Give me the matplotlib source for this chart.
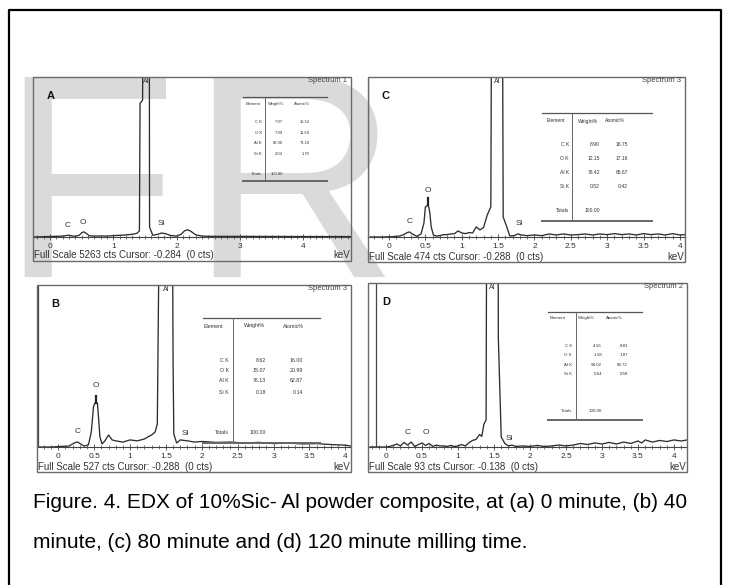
import matplotlib
matplotlib.use("Agg")
import matplotlib.pyplot as plt
from matplotlib.patches import Rectangle
from matplotlib.ticker import MultipleLocator

W, H = 730, 585

# ---- spectra (energy keV, counts) ----
e_a = [-0.26, -0.1, 0.05, 0.15, 0.22, 0.26, 0.29, 0.33, 0.4, 0.46, 0.5, 0.53, 0.57, 0.62,
       0.7, 0.8, 0.9, 1.0, 1.1, 1.2, 1.3, 1.37, 1.41, 1.42, 1.46, 1.47, 1.565, 1.57, 1.62,
       1.66, 1.7, 1.76, 1.82, 1.9, 2.0, 2.07, 2.12, 2.17, 2.22, 2.3, 2.4, 2.6, 3.0, 3.5,
       4.0, 4.5, 4.75]
c_a = [0, 10, 20, 25, 35, 50, 60, 40, 25, 60, 140, 170, 120, 40,
       30, 35, 30, 45, 55, 70, 90, 120, 200, 4400, 4500, 9000, 9000, 330, 60,
       70, 90, 130, 110, 50, 30, 90, 200, 240, 190, 70, 30, 20, 20, 18,
       15, 15, 12]

e_c = [-0.26, -0.1, 0.05, 0.15, 0.2, 0.25, 0.28, 0.32, 0.38, 0.44, 0.48, 0.5, 0.52, 0.54,
       0.56, 0.58, 0.61, 0.65, 0.7, 0.75, 0.8, 0.85, 0.9, 0.95, 1.0, 1.05, 1.1, 1.15, 1.2,
       1.25, 1.3, 1.35, 1.4, 1.41, 1.48, 1.56, 1.57, 1.62, 1.66, 1.72, 1.77, 1.82, 1.9, 2.0,
       2.1, 2.2, 2.3, 2.4, 2.5, 2.6, 2.7, 2.8, 2.9, 3.0, 3.1, 3.2, 3.3, 3.4, 3.5, 3.6, 3.7,
       3.8, 3.9, 4.0, 4.07]
c_c = [0, 0, 1, 3, 7, 13, 15, 9, 2, 9, 41, 89, 92, 95,
       74, 30, 6, 3, 4, 7, 7, 9, 10, 18, 12, 10, 13, 12, 30,
       21, 28, 65, 89, 700, 700, 700, 59, 30, 3, 4, 9, 6, 4, 6,
       4, 9, 6, 9, 6, 7, 9, 6, 9, 7, 10, 7, 9, 6, 10, 7, 9,
       6, 10, 6, 7]

e_b = [-0.26, -0.1, 0.05, 0.15, 0.2, 0.24, 0.27, 0.31, 0.36, 0.42, 0.46, 0.49, 0.51, 0.545,
       0.56, 0.58, 0.61, 0.65, 0.7, 0.75, 0.8, 0.9, 1.0, 1.1, 1.2, 1.25, 1.3, 1.35, 1.38,
       1.41, 1.5, 1.59, 1.6, 1.61, 1.65, 1.7, 1.8, 1.9, 2.0, 2.2, 2.4, 2.6, 2.8, 3.0, 3.2,
       3.4, 3.6, 3.8, 4.0, 4.08]
c_b = [0, 0, 2, 3, 10, 15, 16, 10, 3, 7, 49, 130, 143, 143,
       98, 33, 10, 20, 39, 23, 20, 16, 23, 20, 26, 33, 39, 49, 75,
       810, 810, 810, 270, 42, 13, 23, 20, 16, 18, 15, 16, 13, 15, 11, 13,
       10, 11, 8, 6, 3]

e_d = [-0.22, -0.1, 0.0, 0.05, 0.1, 0.15, 0.2, 0.25, 0.3, 0.35, 0.4, 0.45, 0.5, 0.55,
       0.6, 0.65, 0.7, 0.75, 0.8, 0.85, 0.9, 0.95, 1.0, 1.05, 1.1, 1.15, 1.2, 1.25, 1.3,
       1.33, 1.36, 1.39, 1.4, 1.48, 1.555, 1.56, 1.6, 1.65, 1.7, 1.75, 1.8, 1.9, 2.0, 2.1,
       2.2, 2.3, 2.4, 2.5, 2.6, 2.7, 2.8, 2.9, 3.0, 3.1, 3.2, 3.3, 3.4, 3.5, 3.55, 3.6,
       3.7, 3.8, 3.9, 4.0, 4.1, 4.18]
c_d = [0, 0, 0, 0.3, 0.9, 1.7, 0.6, 2.6, 1.1, 2.8, 0.3, 1.4, 2.3, 0.9,
       2.0, 0.3, 1.1, 0.6, 0.6, 0.3, 0.9, 0.3, 0.6, 1.4, 0.6, 2.3, 3.7, 4.3, 7.1,
       6.0, 13.0, 15.3, 164, 164, 164, 62, 5.7, 2.0, 0.6, 1.1, 0.3, 0.6, 0.3, 0.9,
       0.3, 0.6, 1.1, 0.6, 1.1, 2.0, 1.4, 2.3, 1.7, 2.6, 1.7, 2.8, 2.0, 3.4, 2.3, 4.0,
       2.8, 3.7, 3.1, 4.0, 3.4, 4.0]

# ---- quantification tables ----
rows = ["C K", "O K", "Al K", "Si K"]
wt_a = ["7.97", "7.99", "82.00", "2.04"]
at_a = ["15.52", "11.69", "71.10", "1.70"]
wt_b = ["8.62", "15.07", "76.13", "0.18"]
at_b = ["16.00", "20.99", "62.87", "0.14"]
wt_c = ["8.90", "12.15", "78.42", "0.52"]
at_c = ["16.75", "17.16", "65.67", "0.42"]
wt_d = ["4.16", "1.18", "94.02", "0.64"]
at_d = ["8.83", "1.87", "88.72", "0.58"]

ticks_1 = [0, 1, 2, 3, 4]
ticks_05 = [0, 0.5, 1, 1.5, 2, 2.5, 3, 3.5, 4]

caption = ["Figure. 4. EDX of 10%Sic- Al powder composite, at (a) 0 minute, (b) 40",
           "minute, (c) 80 minute and (d) 120 minute milling time."]

ARIAL = ["Liberation Sans", "DejaVu Sans"]

panels = [
    dict(tag="A", spec="Spectrum 1", e=e_a, c=c_a, fs=5263, cur="-0.284", curv=-0.284,
         L=33, R=351, T=77, base=237, B=261, xlim=(-0.27, 4.75), ticks=ticks_1,
         peaks=[("C", 0.28, 263), ("O", 0.52, 362), ("Si", 1.75, 339)], al=1.515,
         omark=None, wt=wt_a, at=at_a,
         tab=dict(x0=243, x1=327, v=265, top=97, bot=181, hy=101,
                  ry=[122, 133, 143, 154], ty=174, er=-3, wr=18, ar=45,
                  hx=(-12, 11, 37), fs=3.0)),
    dict(tag="C", spec="Spectrum 3", e=e_c, c=c_c, fs=474, cur="-0.288", curv=-0.288,
         L=368, R=685, T=77, base=237, B=262, xlim=(-0.289, 4.07), ticks=ticks_05,
         peaks=[("C", 0.28, 36), ("O", 0.53, 128), ("Si", 1.79, 29)], al=1.49,
         omark=(0.53, 95, 117), wt=wt_c, at=at_c,
         tab=dict(x0=542, x1=652, v=572, top=113, bot=221, hy=118,
                  ry=[145, 159, 172, 187], ty=211, er=-3, wr=28, ar=56,
                  hx=(-16, 16, 43), fs=3.6)),
    dict(tag="B", spec="Spectrum 3", e=e_b, c=c_b, fs=527, cur="-0.288", curv=-0.288,
         L=37, R=351, T=285, base=447, B=472, xlim=(-0.297, 4.08), ticks=ticks_05,
         peaks=[("C", 0.27, 39), ("O", 0.53, 190), ("Si", 1.77, 34)], al=1.5,
         omark=(0.53, 143, 166), wt=wt_b, at=at_b,
         tab=dict(x0=203, x1=320, v=233, top=318, bot=443, hy=323,
                  ry=[360, 370, 381, 392], ty=432, er=-4, wr=33, ar=70,
                  hx=(-20, 22, 60), fs=3.8)),
    dict(tag="D", spec="Spectrum 2", e=e_d, c=c_d, fs=93, cur="-0.138", curv=-0.138,
         L=368, R=687, T=283, base=447, B=472, xlim=(-0.25, 4.18), ticks=ticks_05,
         peaks=[("C", 0.3, 6), ("O", 0.55, 6.5), ("Si", 1.71, 3)], al=1.48,
         omark=None, wt=wt_d, at=at_d,
         tab=dict(x0=548, x1=642, v=576, top=312, bot=420, hy=315,
                  ry=[346, 355, 365, 374], ty=411, er=-4, wr=26, ar=52,
                  hx=(-18, 11, 39), fs=3.2)),
]

fig = plt.figure(figsize=(7.3, 5.85), dpi=100)


def overlay(z):
    ax = fig.add_axes([0, 0, 1, 1], zorder=z)
    ax.set_xlim(0, W)
    ax.set_ylim(H, 0)
    ax.axis("off")
    ax.patch.set_alpha(0)
    return ax


# watermark behind everything
bg = overlay(0)
bg.text(0, 277, "F", fontsize=208, color="#dadada", family=ARIAL, va="baseline", ha="left")
bg.text(189, 277, "R", fontsize=208, color="#dadada", family=ARIAL, va="baseline", ha="left")

fg = overlay(3)

for p in panels:
    ax = fig.add_axes([p["L"] / W, 1 - p["base"] / H, (p["R"] - p["L"]) / W,
                       (p["base"] - p["T"]) / H], zorder=2)
    ax.patch.set_alpha(0)
    ax.plot(p["e"], p["c"], color="#2e2e2e", lw=0.95)
    ax.axvline(p["curv"], color="#444444", lw=0.9)
    ax.set_xlim(*p["xlim"])
    ax.set_ylim(0, p["fs"])
    for s in ["left", "right", "top"]:
        ax.spines[s].set_visible(False)
    ax.spines["bottom"].set_color("#444444")
    ax.spines["bottom"].set_linewidth(0.8)
    ax.set_yticks([])
    ax.set_xticks(p["ticks"])
    ax.set_xticklabels([f"{t:g}" for t in p["ticks"]], fontsize=6, color="#333333",
                       family=ARIAL)
    ax.xaxis.set_minor_locator(MultipleLocator(0.1))
    ax.tick_params(axis="x", which="major", direction="inout", length=4, width=0.6,
                   color="#444444", pad=2)
    ax.tick_params(axis="x", which="minor", direction="inout", length=2.5, width=0.5,
                   color="#444444")
    for name, en, y in p["peaks"]:
        ax.text(en, y, name, fontsize=6, color="#333333", family=ARIAL,
                ha="center", va="bottom")
    if p["omark"]:
        en, y0, y1 = p["omark"]
        ax.plot([en, en], [y0, y1], color="#222222", lw=1.6)
    ax.text(p["al"], p["fs"] * 0.995, "Al", fontsize=5, color="#333333", family=ARIAL,
            ha="center", va="top")

    # panel frame and labels
    fg.add_patch(Rectangle((p["L"], p["T"]), p["R"] - p["L"], p["B"] - p["T"],
                           fill=False, ec="#6a6a6a", lw=1.0))
    fg.text(p["L"] + 14, p["T"] + 19, p["tag"], fontsize=8, fontweight="bold",
            family=ARIAL, color="#111111", va="center")
    fg.text(p["R"] - 4, p["T"] + 4, p["spec"], fontsize=5.5, family=ARIAL,
            color="#444444", ha="right", va="center")
    fg.text(p["L"] + 1, p["B"] - 5.5, f"Full Scale {p['fs']} cts Cursor: {p['cur']}  (0 cts)",
            fontsize=7, family=ARIAL, color="#333333", va="center", ha="left")
    fg.text(p["R"] - 1, p["B"] - 5.5, "keV", fontsize=7, family=ARIAL, color="#333333",
            va="center", ha="right")

    # quantification table
    t = p["tab"]
    fg.plot([t["x0"], t["x1"]], [t["top"], t["top"]], color="#555555", lw=0.9)
    fg.plot([t["x0"], t["x1"]], [t["bot"], t["bot"]], color="#666666", lw=1.4)
    fg.plot([t["v"], t["v"]], [t["top"], t["bot"]], color="#666666", lw=0.7)
    tf = dict(fontsize=t["fs"], family=ARIAL, color="#333333", va="center")
    for lab, dx in zip(["Element", "Weight%", "Atomic%"], t["hx"]):
        fg.text(t["v"] + dx, t["hy"] + 3, lab, ha="center", **tf)
    for y, el, w, a in zip(t["ry"], rows, p["wt"], p["at"]):
        fg.text(t["v"] + t["er"], y, el, ha="right", **tf)
        fg.text(t["v"] + t["wr"], y, w, ha="right", **tf)
        fg.text(t["v"] + t["ar"], y, a, ha="right", **tf)
    fg.text(t["v"] + t["er"], t["ty"], "Totals", ha="right", **tf)
    fg.text(t["v"] + t["wr"], t["ty"], "100.00", ha="right", **tf)

# outer frame (open at the bottom)
fg.plot([9, 9, 721, 721], [H + 5, 10, 10, H + 5], color="black", lw=1.6, clip_on=False)

# caption
for y, line in zip([503, 543], caption):
    fg.text(33, y, line, fontsize=15, family=ARIAL, color="black", va="center", ha="left")

fig.savefig("out.png", dpi=100)
